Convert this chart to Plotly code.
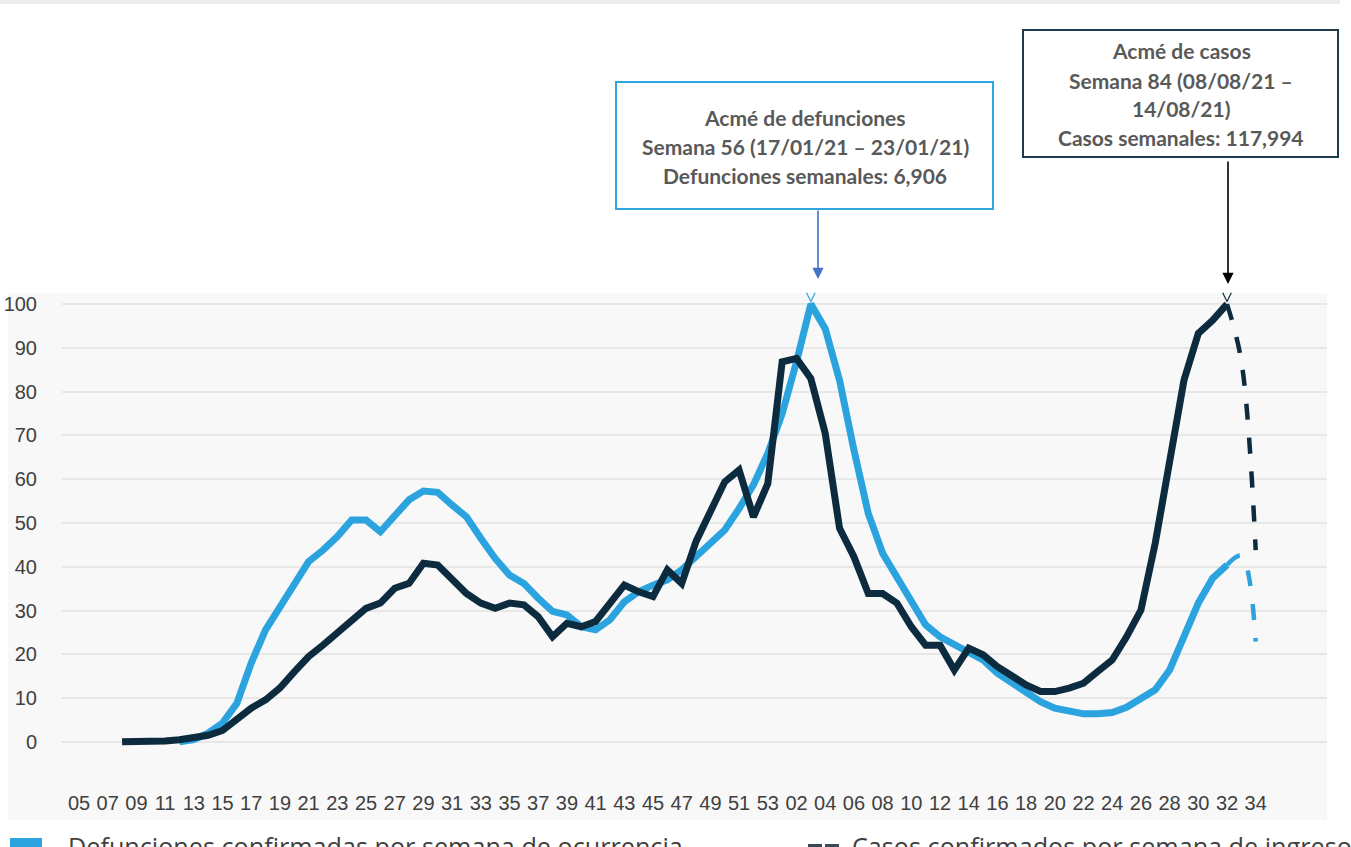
import plotly.graph_objects as go

# ---------------- data ----------------
weeks_2020 = [f"{w:02d}" for w in range(5, 54)]   # 05..53
weeks_2021 = [f"{w:02d}" for w in range(1, 35)]   # 01..34
weeks = weeks_2020 + weeks_2021                    # 83 categories
tick_labels = ([f"{w:02d}" for w in range(5, 54, 2)] +
               [f"{w:02d}" for w in range(2, 35, 2)])

N = None
# Casos confirmados por semana de ingreso (% of peak), solid part
casos = [N, N, N, 0, 0, 0, 0.2, 0.5, 1.0, 1.5,
         2.6, 5.4, 7.7, 9.6, 12.3, 16.0, 19.5, 22.1, 24.8, 27.9,
         30.5, 31.7, 35.1, 36.2, 40.8, 40.4, 37.0, 33.9, 31.7, 30.5,
         31.7, 31.3, 28.6, 24.0, 27.1, 26.3, 27.5, 31.7, 35.8, 34.3,
         33.2, 39.3, 36.2, 45.8, 53.0, 59.4, 62.1, 51.4, 59.0, 86.8,
         87.6, 83.0, 70.5, 48.8, 42.3, 33.9, 33.9, 31.7, 26.3, 22.1,
         22.1, 16.4, 21.4, 19.9, 17.2, 14.9, 13.0, 11.5, 11.5, 12.3,
         13.4, 16.1, 18.7, 24.0, 30.1, 45.4, 65.1, 82.6, 93.3, 96.3,
         100.0, N, N]
casos_prelim = [100.0, 87.0, 43.8]       # weeks 32-34 of 2021 (dashed)

# Defunciones confirmadas por semana de ocurrencia (% of peak), solid part
defunciones = [N, N, N, N, N, N, N, 0, 0.5, 2.0,
               4.3, 8.8, 18.0, 25.6, 30.9, 36.6, 41.2, 43.8, 46.9, 50.7,
               50.7, 48.0, 51.8, 55.3, 57.3, 57.0, 54.1, 51.4, 46.5, 41.9,
               38.1, 36.2, 32.8, 29.8, 29.0, 26.3, 25.6, 27.9, 32.0, 34.3,
               35.8, 37.0, 39.3, 42.3, 45.0, 48.4, 53.3, 58.7, 65.9, 75.0,
               86.8, 100.0, 94.4, 82.6, 66.7, 52.2, 43.1, 37.7, 32.4, 26.7,
               24.0, 22.1, 20.4, 18.7, 15.7, 13.4, 11.1, 9.2, 7.7, 6.9,
               6.4, 6.4, 6.7, 7.9, 9.7, 11.9, 16.4, 23.7, 31.7, 37.4,
               40.4, N, N]
defunciones_prelim = [40.4, 42.5, 22.9]

y_ticks = [0, 10, 20, 30, 40, 50, 60, 70, 80, 90, 100]

# ---------------- styling ----------------
BLUE = "#2AA3DE"
NAVY = "#0D2B3E"
W, H = 1351, 847
L, R, T, B = 62, 24, 291, 92
PW, PH = W - L - R, H - T - B

def px(p):
    return (p - L) / PW

def py(p):
    return (T + PH - p) / PH

idx = list(range(len(weeks)))
prelim_idx = idx[-3:]
tick_idx = list(range(0, len(weeks), 2))

fig = go.Figure()
fig.add_trace(go.Scatter(x=idx, y=defunciones, mode="lines",
                         line=dict(color=BLUE, width=7), hoverinfo="skip"))
fig.add_trace(go.Scatter(x=idx, y=casos, mode="lines",
                         line=dict(color=NAVY, width=7), hoverinfo="skip"))
fig.add_trace(go.Scatter(x=prelim_idx, y=defunciones_prelim, mode="lines",
                         line=dict(color=BLUE, width=4.5, dash="16px,18px",
                                   shape="spline"), hoverinfo="skip"))
fig.add_trace(go.Scatter(x=prelim_idx, y=casos_prelim, mode="lines",
                         line=dict(color=NAVY, width=4.5, dash="16px,18px",
                                   shape="spline"), hoverinfo="skip"))

shapes = [
    # top light band
    dict(type="rect", xref="paper", yref="paper", x0=px(0), x1=px(1340),
         y0=py(0), y1=py(4), fillcolor="#ececec", line=dict(width=0), layer="below"),
    # chart area background
    dict(type="rect", xref="paper", yref="paper", x0=px(8), x1=px(1327),
         y0=py(293), y1=py(820), fillcolor="#f8f8f8", line=dict(width=0), layer="below"),
    # annotation boxes
    dict(type="rect", xref="paper", yref="paper", x0=px(616), x1=px(993),
         y0=py(82), y1=py(209), fillcolor="white", line=dict(color="#2EA6E0", width=2)),
    dict(type="rect", xref="paper", yref="paper", x0=px(1023), x1=px(1338),
         y0=py(30), y1=py(157), fillcolor="white", line=dict(color="#1E3A4C", width=2)),
    # small v marks at peaks
    dict(type="path", xref="x", yref="y",
         path="M 50.7,102.6 L 51,100.6 L 51.3,102.6", line=dict(color=BLUE, width=1.2)),
    dict(type="path", xref="x", yref="y",
         path="M 79.7,102.6 L 80,100.6 L 80.3,102.6", line=dict(color=NAVY, width=1.2)),
    # legend icons
    dict(type="rect", xref="paper", yref="paper", x0=px(10), x1=px(42),
         y0=py(838), y1=py(872), fillcolor=BLUE, line=dict(width=0)),
    dict(type="line", xref="paper", yref="paper", x0=px(808), x1=px(840),
         y0=py(846), y1=py(846), line=dict(color="#3a4a55", width=4, dash="14px,3px")),
]

annots = []
box_font = dict(family="Lato", size=21, color="#595959")
for text, cy in [("<b>Acmé de defunciones</b>", 117),
                 ("<b>Semana 56 (17/01/21 – 23/01/21)</b>", 146),
                 ("<b>Defunciones semanales: 6,906</b>", 175)]:
    annots.append(dict(text=text, xref="paper", yref="paper", x=px(805), y=py(cy),
                       xanchor="center", yanchor="middle", showarrow=False, font=box_font))
for text, cy in [("<b>Acmé de casos</b>", 50),
                 ("<b>Semana 84 (08/08/21 –</b>", 80),
                 ("<b>14/08/21)</b>", 108),
                 ("<b>Casos semanales: 117,994</b>", 137)]:
    annots.append(dict(text=text, xref="paper", yref="paper", x=px(1181), y=py(cy),
                       xanchor="center", yanchor="middle", showarrow=False, font=box_font))
# arrows
annots.append(dict(text="", xref="paper", yref="paper", x=px(818), y=py(279),
                   ax=0, ay=-70, showarrow=True, arrowhead=2, arrowsize=1.4,
                   arrowwidth=1.6, arrowcolor="#4472C4"))
annots.append(dict(text="", xref="paper", yref="paper", x=px(1228), y=py(284),
                   ax=0, ay=-124, showarrow=True, arrowhead=2, arrowsize=1.4,
                   arrowwidth=1.6, arrowcolor="#000000"))
# legend texts (cut by the bottom edge as in the original)
leg_font = dict(family="Open Sans", size=25.2, color="#404040")
annots.append(dict(text="Defunciones confirmadas por semana de ocurrencia",
                   xref="paper", yref="paper", x=px(66), y=py(827),
                   xanchor="left", yanchor="top", showarrow=False, font=leg_font))
annots.append(dict(text="Casos confirmados por semana de ingreso",
                   xref="paper", yref="paper", x=px(850), y=py(827),
                   xanchor="left", yanchor="top", showarrow=False, font=leg_font))

tick_font = dict(family="Liberation Sans", size=20, color="#404040")
fig.update_layout(
    width=W, height=H,
    margin=dict(l=L, r=R, t=T, b=B, autoexpand=False),
    paper_bgcolor="white", plot_bgcolor="rgba(0,0,0,0)",
    showlegend=False,
    shapes=shapes, annotations=annots,
    xaxis=dict(range=[(L - 79) / 14.35, (1327 - 79) / 14.35],
               tickmode="array", tickvals=tick_idx, ticktext=tick_labels,
               showgrid=False, zeroline=False, showline=False,
               ticks="outside", ticklen=30, tickcolor="rgba(0,0,0,0)",
               tickangle=0, tickfont=tick_font, fixedrange=True),
    yaxis=dict(range=[-3, 103], tickmode="array", tickvals=y_ticks,
               showgrid=True, gridcolor="#e7e7e7", gridwidth=1.5,
               zeroline=False, showline=False,
               ticks="outside", ticklen=20, tickcolor="rgba(0,0,0,0)",
               tickfont=tick_font, fixedrange=True),
)

fig.write_html("out.html", config={"displayModeBar": False},
               post_script="document.body.style.margin='0';document.body.style.overflow='hidden';")
